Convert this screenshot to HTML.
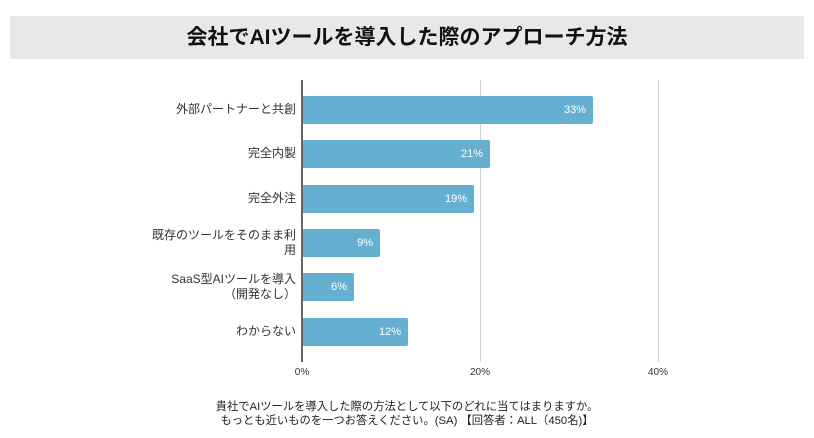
<!DOCTYPE html>
<html><head><meta charset="utf-8"><style>
body{margin:0;width:814px;height:438px;background:#fff;position:relative;overflow:hidden;font-family:"Liberation Sans","Noto Sans CJK JP",sans-serif;}
.t{position:absolute;left:10px;top:16px;width:794px;height:43px;background:#e8e8e8;text-align:center;line-height:43px;font-size:21px;font-weight:bold;color:#111;}
.g{position:absolute;top:80px;height:282px;width:1px;background:#d0d0d0;}
.ax{position:absolute;left:301px;top:80px;height:282px;width:2px;background:#666;}
.b{position:absolute;left:303px;height:28px;background:#65afd1;border-radius:0 2px 2px 0;color:#fff;font-size:11px;text-align:right;box-sizing:border-box;padding-right:7px;line-height:28px;}
.l{position:absolute;right:518px;width:160px;text-align:right;font-size:12px;color:#333;line-height:15px;}
.k{position:absolute;top:367px;font-size:10px;color:#333;width:40px;text-align:center;}
.f{position:absolute;left:0;width:814px;text-align:center;font-size:11.3px;color:#222;}
</style></head><body>
<div class="t">会社でAIツールを導入した際のアプローチ方法</div>
<div class="g" style="left:480px"></div>
<div class="g" style="left:658px"></div>
<div class="ax"></div>
<div class="b" style="top:96px;width:290px">33%</div>
<div class="b" style="top:140px;width:187px">21%</div>
<div class="b" style="top:185px;width:171px">19%</div>
<div class="b" style="top:229px;width:77px">9%</div>
<div class="b" style="top:273px;width:51px">6%</div>
<div class="b" style="top:318px;width:105px">12%</div>
<div class="l" style="top:102px">外部パートナーと共創</div>
<div class="l" style="top:146px">完全内製</div>
<div class="l" style="top:191px">完全外注</div>
<div class="l" style="top:228px">既存のツールをそのまま利<br>用</div>
<div class="l" style="top:272px">SaaS型AIツールを導入<br>（開発なし）</div>
<div class="l" style="top:324px">わからない</div>
<div class="k" style="left:282px">0%</div>
<div class="k" style="left:460px">20%</div>
<div class="k" style="left:638px">40%</div>
<div class="f" style="top:398px">貴社でAIツールを導入した際の方法として以下のどれに当てはまりますか。</div>
<div class="f" style="top:412px">もっとも近いものを一つお答えください。(SA) 【回答者：ALL（450名)】</div>
</body></html>
